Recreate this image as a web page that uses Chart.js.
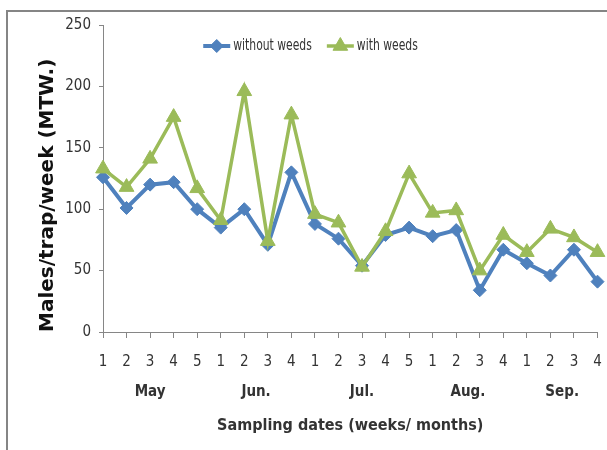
<!DOCTYPE html>
<html>
<head>
<meta charset="utf-8">
<script src="https://cdn.jsdelivr.net/npm/chart.js@4.4.1/dist/chart.umd.min.js"></script>
<style>
  html, body { margin: 0; padding: 0; background: #fff; }
  #wrap { position: relative; width: 607px; height: 450px; overflow: hidden; }
  #frame {
    position: absolute; left: 6px; top: 10px; width: 700px; height: 600px;
    border-top: 2px solid #858585; border-left: 2px solid #858585;
    pointer-events: none;
  }
  canvas { position: absolute; left: 0; top: 0; }
</style>
</head>
<body>
<div id="wrap">
  <div id="frame"></div>
  <canvas id="chart" width="607" height="450"></canvas>
</div>
<script>
// ---------- Data ----------
const weeks = ["1","2","3","4","5","1","2","3","4","1","2","3","4","5","1","2","3","4","1","2","3","4"];
const months = ["May", "Jun.", "Jul.", "Aug.", "Sep."];
const weeksPerMonth = [5, 4, 5, 4, 4];
const withoutWeeds = [126, 101, 120, 122, 100, 85, 100, 71, 130, 88, 76, 54, 79, 85, 78, 83, 34, 67, 56, 46, 67, 41];
const withWeeds = [133, 118, 141, 175, 117, 91, 196, 74, 177, 96, 89, 53, 82, 129, 97, 99, 50, 79, 65, 84, 77, 65];

// month label sits at the middle of its weeks
const monthCenters = [];
let start = 0;
weeksPerMonth.forEach(n => {
  monthCenters.push(start + (n - 1) / 2);
  start += n;
});

const NARROW = '"Liberation Sans Narrow", "DejaVu Sans Condensed", "Liberation Sans", sans-serif';
const AXIS_GREY = "#868686";
const TEXT = "#333333";

// ---------- Legend drawn inside the plot (like the Excel original) ----------
const insideLegend = {
  id: "insideLegend",
  afterDraw(chart) {
    const { ctx, chartArea } = chart;
    const lineLen = 27, gapText = 3, gapItem = 15;
    ctx.save();
    ctx.font = "15px " + NARROW;
    // the original font is narrower than what we have, squeeze it a bit
    const items = chart.data.datasets.map(ds => {
      const tw = ctx.measureText(ds.label).width * 0.8;
      return { ds, tw, w: lineLen + gapText + tw };
    });
    const total = items.reduce((s, it) => s + it.w, 0) + gapItem * (items.length - 1);
    let x = chart.width / 2 + 7 - total / 2;
    const y = chartArea.top + 21;
    items.forEach(({ ds, tw, w }) => {
      ctx.strokeStyle = ds.borderColor;
      ctx.lineWidth = ds.borderWidth;
      ctx.beginPath();
      ctx.moveTo(x, y);
      ctx.lineTo(x + lineLen, y);
      ctx.stroke();
      ctx.fillStyle = ds.pointBackgroundColor;
      ctx.strokeStyle = ds.pointBorderColor;
      ctx.lineWidth = 1;
      Chart.helpers.drawPoint(ctx, {
        pointStyle: ds.pointStyle, radius: ds.pointRadius, rotation: 0, borderWidth: 1
      }, x + lineLen / 2, y);
      ctx.fillStyle = TEXT;
      ctx.textBaseline = "middle";
      ctx.textAlign = "left";
      ctx.fillText(ds.label, x + lineLen + gapText, y, tw);
      x += w + gapItem;
    });
    ctx.restore();
  }
};

// ---------- Chart ----------
new Chart(document.getElementById("chart"), {
  type: "line",
  data: {
    labels: weeks,
    datasets: [
      {
        label: "without weeds",
        data: withoutWeeds,
        borderColor: "#4F81BD",
        backgroundColor: "#4F81BD",
        borderWidth: 4,
        pointStyle: "rectRot",
        pointRadius: 6.5,
        pointBackgroundColor: "#4F81BD",
        pointBorderColor: "#4F81BD",
        pointBorderWidth: 1,
        tension: 0,
        order: 1
      },
      {
        label: "with weeds",
        data: withWeeds,
        borderColor: "#9BBB59",
        backgroundColor: "#9BBB59",
        borderWidth: 3.5,
        pointStyle: "triangle",
        pointRadius: 8.5,
        pointBackgroundColor: "#9BBB59",
        pointBorderColor: "#9BBB59",
        pointBorderWidth: 1,
        tension: 0,
        order: 0
      }
    ]
  },
  options: {
    responsive: false,
    animation: false,
    devicePixelRatio: 1,
    layout: { padding: { top: 25, right: 7, left: 0, bottom: 0 } },
    plugins: {
      legend: { display: false },
      tooltip: { enabled: false }
    },
    scales: {
      x: {
        type: "category",
        position: "bottom",
        offset: false,
        weight: 0,
        afterFit(s) { s.height = 38; s.paddingLeft = 0; s.paddingRight = 0; },
        grid: { display: true, drawOnChartArea: false, drawTicks: true, tickLength: 6, color: AXIS_GREY },
        border: { display: true, color: AXIS_GREY, width: 1 },
        ticks: { font: { family: NARROW, size: 15 }, color: TEXT, padding: 15, maxRotation: 0, autoSkip: false }
      },
      xm: {
        type: "linear",
        position: "bottom",
        weight: 1,
        min: 0,
        max: weeks.length - 1,
        afterFit(s) { s.height = 80; s.paddingLeft = 0; s.paddingRight = 0; },
        afterBuildTicks(s) { s.ticks = monthCenters.map(v => ({ value: v })); },
        grid: { display: false, drawTicks: false },
        border: { display: false },
        ticks: {
          font: { family: NARROW, size: 15, weight: "bold" }, color: TEXT, padding: 13,
          maxRotation: 0, autoSkip: false,
          callback: (v, i) => months[i]
        },
        title: {
          display: true,
          text: "Sampling dates (weeks/ months)",
          font: { family: NARROW, size: 16, weight: "bold" },
          color: TEXT,
          padding: { top: 0, bottom: 15 }
        }
      },
      y: {
        min: 0,
        max: 250,
        afterFit(s) { s.width = 103; },
        ticks: { stepSize: 50, font: { family: NARROW, size: 15 }, color: TEXT, padding: 8 },
        grid: { display: true, drawOnChartArea: false, drawTicks: true, tickLength: 4, color: AXIS_GREY },
        border: { display: true, color: AXIS_GREY, width: 1 },
        title: {
          display: true,
          align: "start",
          text: "Males/trap/week (MTW.)",
          font: { family: '"DejaVu Sans", sans-serif', size: 20, weight: "bold" },
          color: "#111",
          padding: { top: 36, bottom: 0 }
        }
      }
    }
  },
  plugins: [insideLegend]
});
</script>
</body>
</html>
